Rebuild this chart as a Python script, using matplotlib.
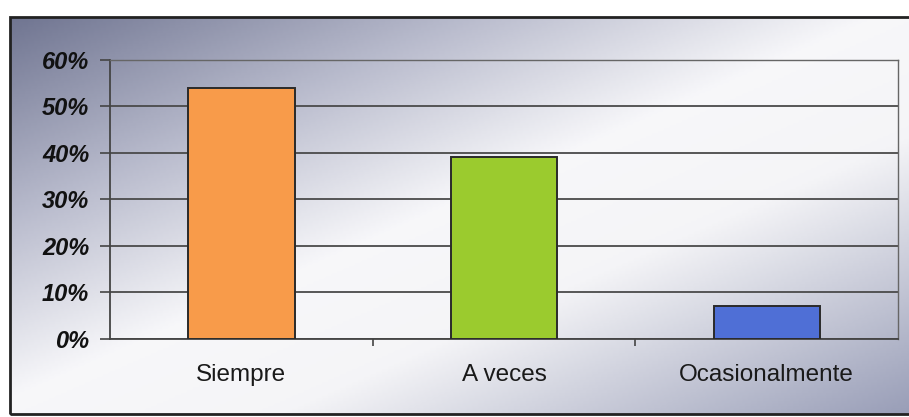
import numpy as np
import matplotlib
matplotlib.use('Agg')
import matplotlib.pyplot as plt
from matplotlib.colors import LinearSegmentedColormap
from matplotlib.patches import Rectangle

categorias = ['Siempre', 'A veces', 'Ocasionalmente']
valores = [54, 39, 7]
colores = ['#F89B4A', '#9BCB2E', '#4F6FD6']
ticks_y = [0, 10, 20, 30, 40, 50, 60]
etiquetas_y = ['0%', '10%', '20%', '30%', '40%', '50%', '60%']

plt.rcParams['font.family'] = ['Liberation Sans', 'DejaVu Sans']

fig = plt.figure(figsize=(9.09, 4.17), dpi=100)
fig.patch.set_facecolor('white')

# fondo degradado (diagonal: gris arriba-izq, blanco al centro, gris abajo-der)
fondo = fig.add_axes([0.011, 0.007, 0.989, 0.952], zorder=0)
fondo.set_axis_off()
cmap = LinearSegmentedColormap.from_list('fondo', [
    (0.0, (0.44, 0.46, 0.57)),
    (0.25, (0.72, 0.73, 0.80)),
    (0.48, (0.97, 0.97, 0.98)),
    (0.65, (0.96, 0.96, 0.97)),
    (1.0, (0.60, 0.62, 0.72)),
])
xx, yy = np.meshgrid(np.linspace(0, 1, 300), np.linspace(0, 1, 150))
fondo.imshow((xx + yy) / 2, cmap=cmap, aspect='auto', extent=[0, 1, 0, 1],
             origin='upper', vmin=0, vmax=1)

# marco exterior (el lado derecho queda fuera de la imagen)
fig.patches.append(Rectangle((0.011, 0.007), 1.0, 0.952, transform=fig.transFigure,
                             fill=False, edgecolor='#222222', linewidth=2, zorder=5))

ax = fig.add_axes([0.121, 0.187, 0.867, 0.670], zorder=2)
ax.patch.set_alpha(0)

x = np.arange(len(categorias))
ax.bar(x, valores, width=0.405, color=colores, edgecolor='#2a2a2a', linewidth=1.4, zorder=3)

ax.set_ylim(0, 60)
ax.set_xlim(-0.5, len(categorias) - 0.5)
ax.set_yticks(ticks_y)
ax.set_yticklabels(etiquetas_y, fontsize=17, fontweight='bold', fontstyle='italic', color='#111111')
ax.yaxis.grid(True, color='#4a4a4a', linewidth=1.3, zorder=1)
ax.set_axisbelow(True)

ax.set_xticks(x)
ax.set_xticklabels(categorias, fontsize=17.5, color='#1a1a1a')
ax.set_xticks([0.5, 1.5], minor=True)
ax.tick_params(axis='x', which='major', length=0, pad=18)
ax.tick_params(axis='x', which='minor', length=5, width=1.2, color='#444444', direction='out')
ax.tick_params(axis='y', length=7, width=1.2, color='#444444', pad=8)

for lado in ['top', 'right']:
    ax.spines[lado].set_color('#666666')
    ax.spines[lado].set_linewidth(1.0)
for lado in ['left', 'bottom']:
    ax.spines[lado].set_color('#444444')
    ax.spines[lado].set_linewidth(1.3)

fig.savefig('out.png', dpi=100)
